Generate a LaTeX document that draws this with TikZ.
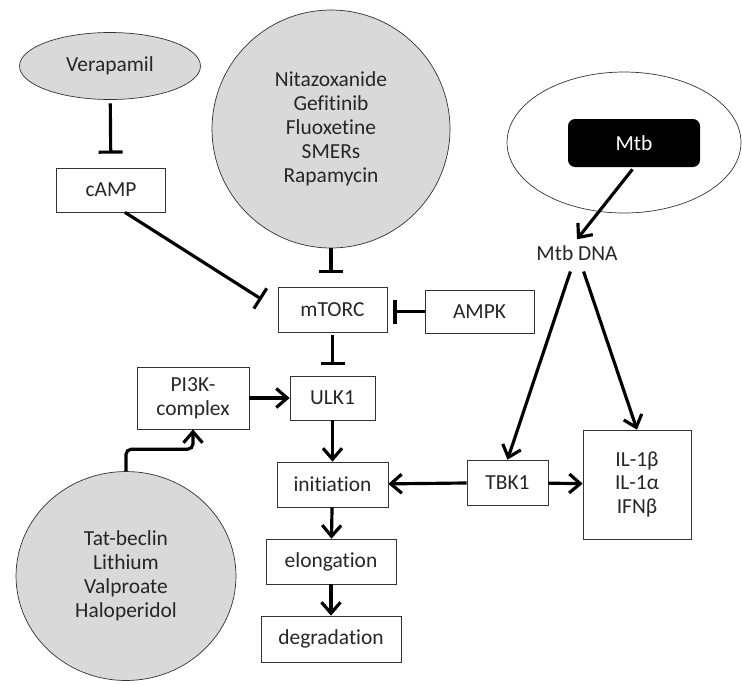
\documentclass[tikz,border=0pt]{standalone}
\usepackage{fontspec}
\setmainfont{Carlito}[Ligatures=NoCommon]
\usetikzlibrary{shapes.geometric,arrows.meta,positioning,calc}

\begin{document}
\begin{tikzpicture}[
    x=0.02cm, y=-0.02cm,
    font=\fontsize{12.2}{13.6}\selectfont, text=black!85,
    box/.style={rectangle, draw=black!80, thin, fill=white, align=center, inner sep=0pt},
    drug/.style={ellipse, draw=black!80, thin, fill=black!15, align=center, inner sep=0pt},
    arrow/.style={-{Straight Barb[length=0.22cm, width=0.38cm]}, line width=1.8pt, draw=black},
    inhibit/.style={-{Bar[width=0.48cm]}, line width=1.8pt, draw=black}
]
\useasboundingbox (0,0) rectangle (742,684);

% Drugs
\node[drug, minimum width=3.62cm, minimum height=1.34cm] (vera) at (110,66) {Verapamil};
\node[drug, circle, minimum size=4.76cm] (mtorinh) at (331,129) {Nitazoxanide\\Gefitinib\\Fluoxetine\\SMERs\\Rapamycin};
\node[drug, minimum width=4.4cm, minimum height=4.18cm] (pikinh) at (126,576) {Tat-beclin\\Lithium\\Valproate\\Haloperidol};

% Mtb
\node[ellipse, draw=black!80, thin, minimum width=4.68cm, minimum height=2.82cm] (cell) at (624,142.5) {};
\node[rectangle, rounded corners=4pt, fill=black, text=white, minimum width=2.64cm, minimum height=0.96cm] (mtb) at (634,143) {Mtb};
\node (dna) at (577,253) {Mtb DNA};

% Pathway
\node[box, minimum width=2.18cm, minimum height=0.88cm] (camp) at (111,190) {cAMP};
\node[box, minimum width=2.18cm, minimum height=0.9cm] (mtorc) at (332.5,309.5) {mTORC};
\node[box, minimum width=2.18cm, minimum height=0.86cm] (ampk) at (479.5,311.5) {AMPK};
\node[box, minimum width=1.7cm, minimum height=0.88cm] (ulk) at (332.5,398) {ULK1};
\node[box, minimum width=2.24cm, minimum height=1.24cm] (pik) at (193,398) {PI3K-\\complex};
\node[box, minimum width=2.22cm, minimum height=0.9cm] (init) at (332.5,484.5) {initiation};
\node[box, minimum width=2.6cm, minimum height=0.9cm] (elong) at (331,561.5) {elongation};
\node[box, minimum width=2.8cm, minimum height=0.92cm] (degr) at (331,639) {degradation};
\node[box, minimum width=1.62cm, minimum height=0.9cm] (tbk) at (507.5,482.5) {TBK1};
\node[box, minimum width=2.16cm, minimum height=2.18cm] (il) at (637,484.5) {IL-1β\\IL-1α\\IFNβ};

% Inhibitions
\draw[inhibit, shorten <=0.07cm, shorten >=0.28cm] (vera) -- (camp);
\draw[inhibit, shorten >=0.38cm] ([xshift=0.28cm]camp.south) -- (mtorc.west);
\draw[inhibit, shorten >=0.28cm] (mtorinh) -- (mtorinh |- mtorc.north);
\draw[inhibit, shorten >=0.12cm] (ampk.west) -- (ampk.west -| mtorc.east);
\draw[inhibit, shorten <=0.06cm, shorten >=0.22cm] (mtorc) -- (ulk);

% Arrows
\draw[arrow] (pik) -- (ulk);
\draw[arrow] (ulk) -- (init);
\draw[arrow] (init) -- (elong);
\draw[arrow] (elong) -- (degr);
\draw[arrow] (tbk) -- (init);
\draw[arrow] (tbk) -- (il);
\draw[arrow, rounded corners=3pt] (pikinh.north) -- ++(0,-22) -| (pik.south);

\draw[arrow, shorten <=0.05cm] (mtb.south) -- (dna.north);
\draw[arrow, shorten <=0.1cm] ([xshift=-0.1cm]dna.south) -- (tbk.north);
\draw[arrow, shorten <=0.1cm] ([xshift=0.1cm]dna.south) -- (il.north);

\end{tikzpicture}
\end{document}
